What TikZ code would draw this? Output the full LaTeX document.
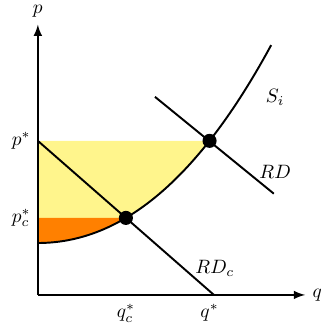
\documentclass[tikz,border=0pt]{standalone}
\usepackage{amsmath, amssymb}
\usepackage{xcolor}
\usepackage{tikz}
\usetikzlibrary{calc, positioning}

\definecolor{surplusyellow}{RGB}{255,245,140}
\definecolor{surplusorange}{RGB}{255,128,0}

\begin{document}
\begin{tikzpicture}[>=latex, scale=0.8, line width=1pt]
    \useasboundingbox (-0.86,-0.66) rectangle (6.41,6.70);

    % Các điểm chính
    \coordinate (O) at (0,0);
    \coordinate (Xend) at (6.07,0);
    \coordinate (Yend) at (0,6.14);
    \coordinate (A) at (2,1.75);
    \coordinate (B) at (3.9,3.5);
    \coordinate (Pstar) at (0,3.5);
    \coordinate (Pc) at (0,1.75);
    \coordinate (RDtop) at (2.66,4.5);
    \coordinate (RDbot) at (5.36,2.3);
    \coordinate (RDcend) at (4,0);

    % Tô màu các vùng thặng dư
    \fill[surplusyellow] (Pc) -- plot[domain=2:3.9, samples=60] (\x, {1.18 + 0.132*\x*\x + 0.0053*\x*\x*\x}) -- (Pstar) -- cycle;
    \fill[surplusorange] plot[domain=0:2, samples=60] (\x, {1.18 + 0.132*\x*\x + 0.0053*\x*\x*\x}) -- (Pc) -- cycle;

    % Hệ trục tọa độ
    \draw[->] (O) -- (Xend) node[right] {$q$};
    \draw[->] (O) -- (Yend) node[above] {$p$};

    % Đường cung S_i
    \draw[samples=150, domain=0:5.3]
         plot (\x, {1.18 + 0.132*\x*\x + 0.0053*\x*\x*\x});

    % Các đường cầu dư
    \draw (RDtop) -- (RDbot);
    \draw (Pstar) -- (RDcend);

    % Điểm cân bằng
    \fill (A) circle (0.16);
    \fill (B) circle (0.16);

    % Nhãn
    \node[left] (pstarlabel) at (Pstar) {$p^*$};
    \node[left] (pclabel) at (Pc) {$p_c^*$};
    \node[below, yshift=-1pt] (qclabel) at (2,0) {$q_c^*$};
    \node[below, yshift=-1pt] (qstarlabel) at (3.9,0) {$q^*$};
    \node (Silabel) at (5.39,4.48) {$S_i$};
    \node (RDlabel) at (5.39,2.8) {$RD$};
    \node (RDclabel) at (4.02,0.61) {$RD_c$};
\end{tikzpicture}
\end{document}
